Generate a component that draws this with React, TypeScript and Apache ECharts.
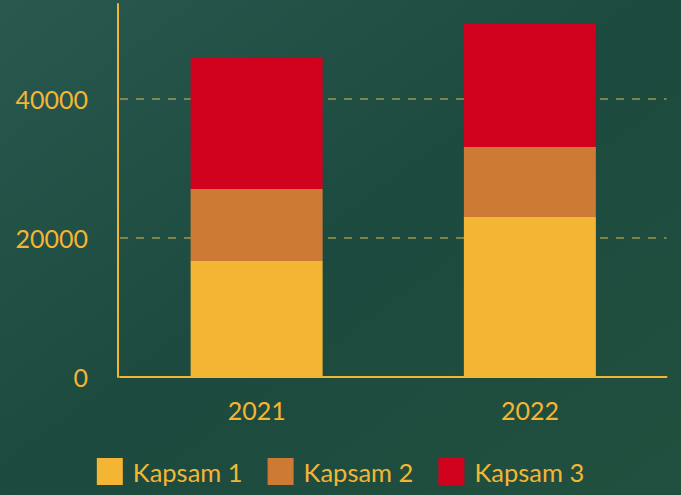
import React, { useEffect, useRef } from "react";
import * as echarts from "echarts";

const categories = ["2021", "2022"];
const seriesNames = ["Kapsam 1", "Kapsam 2", "Kapsam 3"];
const kapsam1 = [16710, 23050];
const kapsam2 = [10370, 10080];
const kapsam3 = [18870, 17720];
const seriesColors = ["#F4B535", "#CD7A35", "#D0021D"];
const gold = "#F4B535";

export default function App() {
  const ref = useRef<HTMLDivElement>(null);
  useEffect(() => {
    if (!ref.current) return;
    const chart = echarts.init(ref.current, undefined, { renderer: "svg" });
    const values = [kapsam1, kapsam2, kapsam3];
    chart.setOption({
      animation: false,
      backgroundColor: {
        type: "linear",
        x: 0,
        y: 0,
        x2: 1,
        y2: 1,
        colorStops: [
          { offset: 0, color: "#29584F" },
          { offset: 0.5, color: "#1C4A3E" },
          { offset: 1, color: "#21503F" },
        ],
      },
      textStyle: { fontFamily: "Lato" },
      grid: { left: 120, right: 14.5, top: 4, bottom: 118, containLabel: false },
      legend: {
        data: seriesNames,
        left: "center",
        top: 453,
        itemWidth: 26,
        itemHeight: 27,
        itemGap: 25,
        icon: "rect",
        textStyle: { color: gold, fontSize: 25.5, fontFamily: "Lato", padding: [0, 0, 0, 5] },
      },
      xAxis: {
        type: "category",
        data: categories,
        axisLine: { show: true, lineStyle: { color: gold, width: 2 } },
        axisTick: { show: false },
        axisLabel: { color: gold, fontSize: 25, fontFamily: "Lato", margin: 20 },
        splitLine: { show: false },
      },
      yAxis: {
        type: "value",
        min: 0,
        max: 53700,
        interval: 20000,
        offset: 2,
        axisLine: { show: true, lineStyle: { color: gold, width: 2 } },
        axisTick: { show: false },
        axisLabel: {
          color: gold,
          fontSize: 25,
          fontFamily: "Lato",
          margin: 30,
          showMaxLabel: false,
          formatter: (v: number) => String(v),
        },
        splitLine: {
          show: true,
          showMinLine: false,
          showMaxLine: false,
          lineStyle: { color: "rgba(190,170,80,0.6)", type: [8, 8], width: 2 },
        },
      },
      series: seriesNames.map((name, i) => ({
        name,
        type: "bar",
        stack: "total",
        barWidth: 132,
        data: values[i],
        itemStyle: { color: seriesColors[i] },
      })),
    });
    return () => chart.dispose();
  }, []);
  return (
    <div
      ref={ref}
      style={{ position: "fixed", left: 0, top: 0, width: 681, height: 495 }}
    />
  );
}
